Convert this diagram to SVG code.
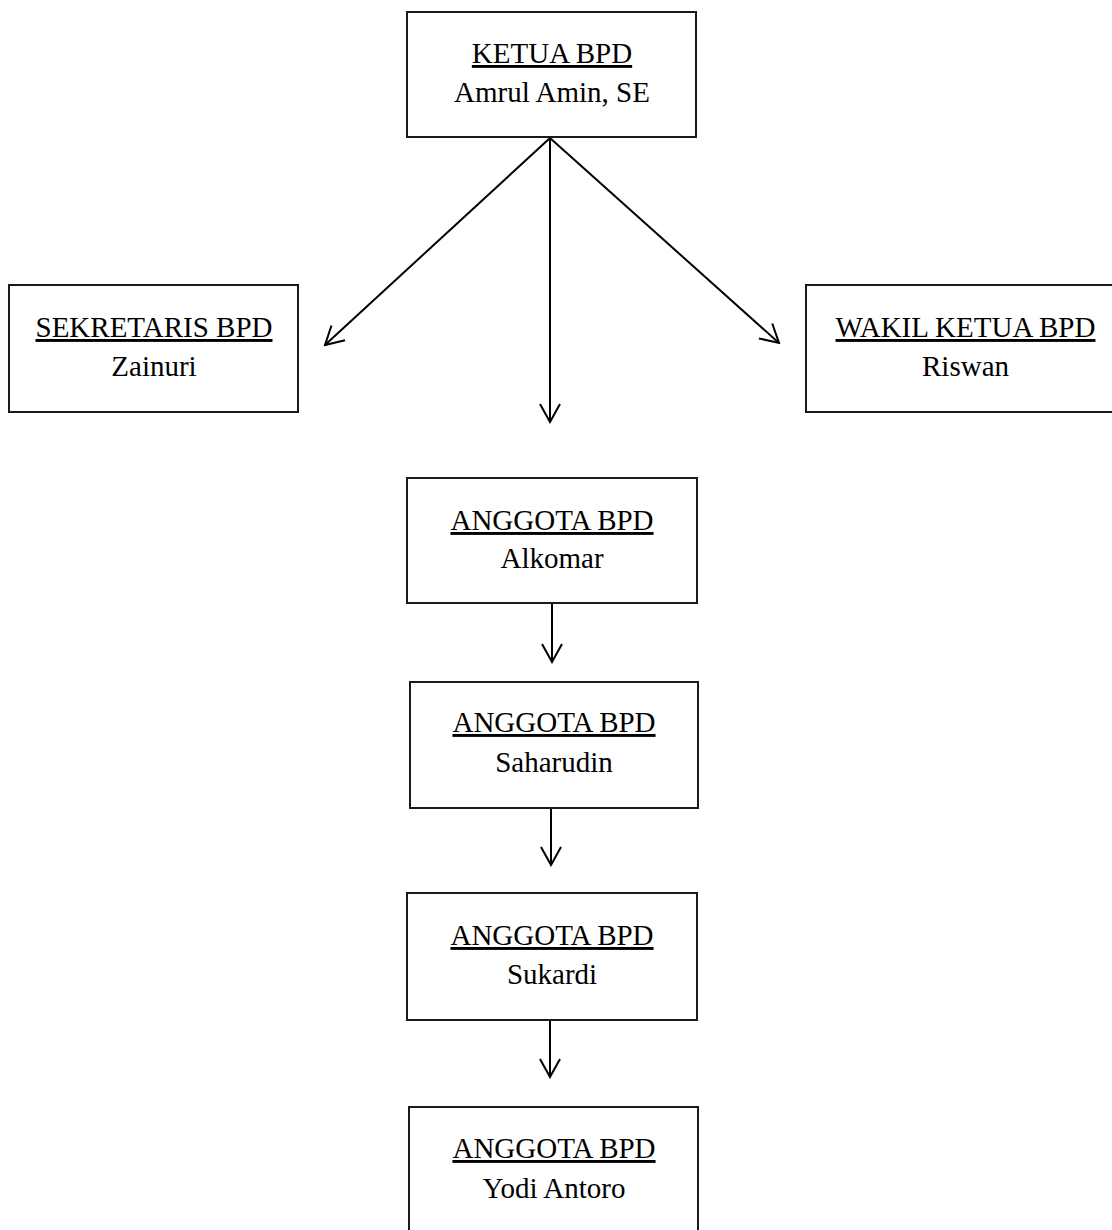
<svg xmlns="http://www.w3.org/2000/svg" width="1112" height="1230" viewBox="0 0 1112 1230">
<style>
  .box { fill: #ffffff; stroke: #1a1a1a; stroke-width: 2; }
  .t { font-family: "Liberation Serif", "Times New Roman", serif; font-size: 29px; fill: #000; text-anchor: middle; }
  .u { text-decoration: underline; }
  .c { stroke: #000; stroke-width: 2; fill: none; marker-end: url(#arr); }
</style>
<defs>
  <marker id="arr" markerUnits="userSpaceOnUse" viewBox="-20 -12 22 24" refX="0" refY="0" markerWidth="22" markerHeight="24" orient="auto">
    <path d="M -18 -10 L 0 0 L -18 10" fill="none" stroke="#000" stroke-width="2" stroke-linejoin="miter"/>
  </marker>
</defs>
<rect x="0" y="0" width="1112" height="1230" fill="#ffffff"/>
<g id="connectors">
  <line class="c" x1="550" y1="138" x2="325" y2="345"/>
  <line class="c" x1="550" y1="138" x2="550" y2="422"/>
  <line class="c" x1="550" y1="138" x2="779" y2="343"/>
  <line class="c" x1="552" y1="603" x2="552" y2="662"/>
  <line class="c" x1="551" y1="808" x2="551" y2="865"/>
  <line class="c" x1="550" y1="1020" x2="550" y2="1077"/>
</g>
<g id="ketua">
  <rect class="box" x="407" y="12" width="289" height="125"/>
  <text class="t u" x="552" y="63">KETUA BPD</text>
  <text class="t" x="552" y="102">Amrul Amin, SE</text>
</g>
<g id="sekretaris">
  <rect class="box" x="9" y="285" width="289" height="127"/>
  <text class="t u" x="154" y="337">SEKRETARIS BPD</text>
  <text class="t" x="154" y="376">Zainuri</text>
</g>
<g id="wakil">
  <rect class="box" x="806" y="285" width="320" height="127"/>
  <text class="t u" x="965.5" y="337">WAKIL KETUA BPD</text>
  <text class="t" x="965.5" y="376">Riswan</text>
</g>
<g id="anggota1">
  <rect class="box" x="407" y="478" width="290" height="125"/>
  <text class="t u" x="552" y="530">ANGGOTA BPD</text>
  <text class="t" x="552" y="568">Alkomar</text>
</g>
<g id="anggota2">
  <rect class="box" x="410" y="682" width="288" height="126"/>
  <text class="t u" x="554" y="732">ANGGOTA BPD</text>
  <text class="t" x="554" y="772">Saharudin</text>
</g>
<g id="anggota3">
  <rect class="box" x="407" y="893" width="290" height="127"/>
  <text class="t u" x="552" y="945">ANGGOTA BPD</text>
  <text class="t" x="552" y="984">Sukardi</text>
</g>
<g id="anggota4">
  <rect class="box" x="409" y="1107" width="289" height="140"/>
  <text class="t u" x="554" y="1158">ANGGOTA BPD</text>
  <text class="t" x="554" y="1198">Yodi Antoro</text>
</g>
</svg>
